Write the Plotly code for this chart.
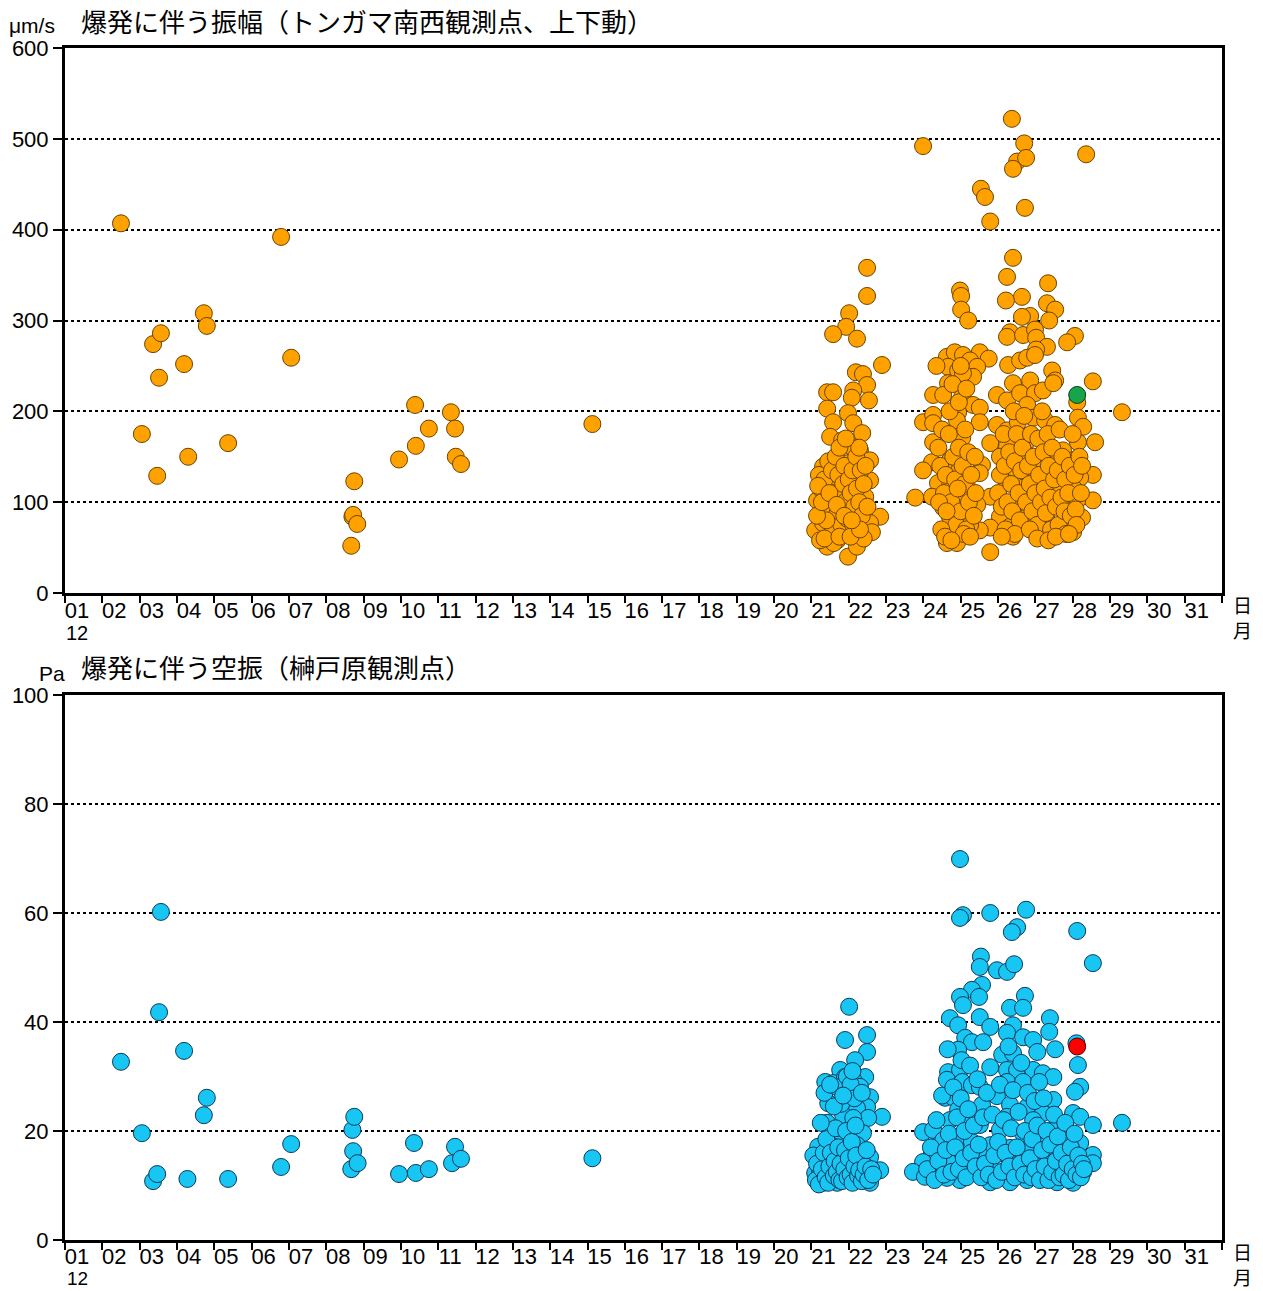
import plotly.graph_objects as go

# ---- Seismic amplitude of explosions (µm/s), December ----
amp_day = [
    2.50, 3.06, 3.36, 3.47, 3.52, 3.57, 4.19, 4.30, 4.72, 4.80, 5.37, 6.79, 7.06,
    8.67, 8.70, 8.72, 8.75, 8.83, 9.95, 10.38, 10.40, 10.75, 11.34, 11.45, 11.47, 11.61,
    15.13,
    # 21-22
    22.49, 22.49, 22.01, 21.93, 21.58, 22.22, 22.89, 22.19, 22.38, 22.49, 21.42, 21.58,
    22.12, 22.54, 22.08, 21.42, 21.98, 21.58, 22.12, 22.36, 21.50, 21.82, 22.08, 22.30,
    22.57, 22.57, 21.31, 21.58, 21.98, 22.25, 22.44, 21.15, 21.42, 21.77, 22.03, 22.84,
    22.57, 22.62, 21.10, 21.31, 21.58, 21.85, 22.17, 21.42, 21.98, 22.22, 21.23, 21.69,
    21.20, 21.25, 21.30, 21.35, 21.45, 21.50, 21.55, 21.60, 21.65, 21.70, 21.72, 21.75,
    21.80, 21.85, 21.88, 21.90, 21.95, 22.00, 22.05, 22.10, 22.12, 22.15, 22.20, 22.22,
    22.28, 22.32, 22.35, 22.40, 22.45, 22.50, 22.40, 21.60, 21.35, 21.40, 21.75, 22.05,
    22.30, 21.15, 21.18, 21.28, 21.48, 21.68, 21.88, 22.08, 22.28, 21.92,
    # 23-29
    26.37, 23.99, 28.36, 26.70, 26.51, 26.75, 26.40, 25.54, 25.65, 26.72, 25.79, 26.40,
    26.24, 27.34, 24.98, 25.01, 26.64, 26.21, 27.31, 27.53, 25.01, 25.20, 26.86, 26.64,
    27.37, 26.32, 26.24, 26.67, 26.99, 27.02, 28.06, 27.85, 27.31, 27.02, 24.63, 24.84,
    25.06, 25.51, 25.75, 25.25, 24.66, 24.93, 25.44, 25.33, 25.06, 26.27, 26.59, 26.78,
    26.99, 27.45, 27.53, 24.66, 26.40, 26.86, 28.54, 24.26, 24.53, 25.04, 25.97, 26.24,
    26.59, 26.99, 27.20, 27.48, 25.33, 25.51, 26.78, 28.12, 29.32, 23.99, 24.26, 24.26,
    24.93, 24.90, 25.51, 25.97, 26.24, 26.53, 26.94, 27.26, 27.53, 28.14, 28.28, 28.60,
    28.14, 24.26, 25.04, 25.79, 26.24, 26.72, 27.31, 27.74, 24.23, 24.71, 25.57, 26.05,
    26.78, 27.13, 27.48, 28.01, 23.99, 24.98, 25.51, 26.27, 26.94, 27.39, 28.54, 28.20,
    24.39, 24.71, 25.17, 26.24, 26.67, 27.66, 28.01, 23.78, 24.23, 25.04, 25.79, 28.54,
    24.53, 25.44, 26.51, 27.20, 27.58, 28.12, 26.05, 24.71, 25.17, 25.79, 25.51, 26.32,
    26.78, 27.31, 27.74, 28.25, 24.84, 24.63, 24.90, 26.40, 25.79, 27.48, 28.01, 27.13,
    25.25,
    24.40, 24.45, 24.50, 24.55, 24.60, 24.68, 24.75, 24.80, 24.85, 24.88, 24.95, 25.00,
    25.05, 25.10, 25.12, 25.15, 25.20, 25.22, 25.28, 25.35, 25.38, 25.40, 24.48, 24.58,
    24.70, 24.78, 24.95, 25.00, 25.15, 24.35, 24.42, 24.62, 24.92, 25.08, 25.25, 24.75,
    26.00, 26.05, 26.10, 26.15, 26.18, 26.25, 26.30, 26.35, 26.38, 26.42, 26.45, 26.50,
    26.55, 26.58, 26.62, 26.65, 26.70, 26.75, 26.80, 26.85, 26.88, 26.92, 26.95, 27.00,
    27.05, 27.08, 27.10, 27.15, 27.18, 27.22, 27.25, 27.28, 27.33, 27.36, 27.40, 27.42,
    27.45, 27.50, 27.55, 27.60, 27.62, 27.65, 27.70, 27.72, 27.78, 27.80, 27.82, 27.88,
    27.92, 27.95, 28.00, 28.05, 28.08, 28.10, 28.18, 28.22, 28.25, 26.20, 26.45, 26.85,
    27.05, 27.35, 27.55, 27.90, 26.10,
]
amp_val = [
    407, 175, 274, 129, 237, 286, 252, 150, 308, 294, 165, 392, 259,
    52, 84, 86, 123, 76, 147, 207, 162, 181, 199, 181, 150, 142,
    186,
    358, 327, 308, 293, 285, 280, 251, 243, 241, 229, 221, 221,
    223, 212, 215, 203, 198, 188, 187, 176, 172, 168, 161, 157,
    146, 124, 139, 121, 143, 128, 106, 102, 99, 110, 91, 84,
    77, 67, 69, 77, 69, 73, 66, 51, 40, 51, 58, 58,
    130, 115, 88, 125, 145, 95, 135, 110, 150, 88, 130, 160,
    75, 120, 140, 100, 82, 125, 110, 135, 75, 95, 150, 115,
    100, 135, 85, 120, 140, 95, 60, 55, 60, 80, 62, 62,
    70, 85, 118, 100, 110, 97, 85, 80, 160, 170,
    522, 492, 483, 495, 475, 479, 467, 445, 436, 424, 409, 369,
    348, 341, 333, 327, 326, 322, 319, 312, 312, 300, 305, 304,
    300, 287, 282, 284, 290, 281, 283, 276, 271, 268, 260, 265,
    262, 265, 258, 256, 249, 245, 249, 238, 242, 251, 256, 259,
    262, 245, 234, 231, 231, 234, 233, 218, 218, 216, 218, 212,
    220, 220, 223, 231, 207, 204, 207, 210, 199, 188, 196, 187,
    199, 190, 188, 185, 179, 188, 193, 190, 185, 193, 183, 166,
    166, 166, 171, 165, 161, 163, 161, 157, 144, 146, 141, 150,
    152, 143, 146, 146, 135, 137, 132, 130, 130, 128, 130, 127,
    121, 117, 117, 121, 116, 117, 116, 105, 106, 106, 106, 102,
    94, 97, 99, 97, 102, 102, 84, 84, 83, 72, 69, 73,
    84, 80, 77, 83, 66, 55, 55, 62, 45, 62, 67, 69,
    75,
    160, 140, 180, 110, 130, 175, 100, 150, 125, 75, 160, 90,
    140, 120, 180, 70, 155, 100, 130, 85, 150, 110, 70, 62,
    200, 230, 210, 250, 225, 250, 100, 90, 115, 65, 62, 58,
    110, 130, 95, 175, 140, 100, 155, 120, 90, 200, 145, 175,
    110, 80, 135, 160, 195, 100, 140, 120, 175, 90, 150, 110,
    75, 170, 130, 100, 200, 155, 115, 88, 175, 140, 105, 70,
    160, 125, 95, 135, 75, 180, 105, 150, 90, 125, 65, 110,
    140, 85, 175, 130, 92, 75, 150, 110, 140, 70, 65, 70,
    60, 58, 62, 65, 62,
]

# ---- Infrasound pressure of explosions (Pa), December ----
air_day = [
    2.50, 3.06, 3.36, 3.47, 3.52, 3.57, 4.19, 4.28, 4.72, 4.80, 5.37, 6.79, 7.06,
    8.67, 8.70, 8.72, 8.75, 8.84, 9.95, 10.35, 10.40, 10.75, 11.37, 11.45, 11.61,
    15.13,
    # 21-22
    22.01, 21.90, 22.49, 22.49, 22.17, 21.77, 22.44, 21.37, 21.58, 21.90, 22.12, 22.30,
    22.03, 22.57, 21.45, 22.49, 21.95, 22.22, 22.89, 22.52, 21.85, 21.42, 22.12, 22.38,
    21.50, 21.82, 21.18, 22.22, 21.58, 22.57, 22.30, 22.84, 21.10, 21.42, 21.85, 22.03,
    22.57, 21.31, 21.69, 22.22, 21.23, 21.55, 21.85,
    21.05, 21.12, 21.15, 21.20, 21.28, 21.33, 21.38, 21.40, 21.45, 21.48, 21.52, 21.60,
    21.62, 21.65, 21.68, 21.72, 21.75, 21.78, 21.80, 21.82, 21.88, 21.90, 21.93, 21.97,
    22.00, 22.05, 22.08, 22.10, 22.15, 22.18, 22.20, 22.25, 22.28, 22.35, 22.40, 22.45,
    22.48, 22.52, 22.60, 22.65, 21.25, 21.35, 21.70, 21.60, 21.50, 21.95, 22.05, 22.15,
    22.35, 22.10, 21.85,
    # 23-29
    24.98, 25.06, 24.98, 25.79, 26.75, 26.51, 26.37, 28.12, 28.54, 25.54, 25.51, 25.97,
    26.24, 26.43, 25.57, 25.30, 24.98, 25.49, 26.72, 25.06, 26.32, 26.67, 24.71, 25.51,
    27.39, 24.93, 25.79, 26.40, 26.24, 27.37, 26.67, 26.94, 25.12, 25.30, 25.60, 27.53,
    28.10, 24.93, 26.11, 26.40, 27.05, 28.14, 25.79, 24.66, 24.98, 26.24, 26.51, 26.94,
    27.20, 27.48, 24.63, 25.04, 25.30, 25.51, 26.24, 26.67, 28.20, 28.06, 25.97, 25.57,
    24.58, 24.79, 26.32, 26.78, 27.48, 24.93, 27.20, 28.01, 28.20, 26.24, 24.71, 25.17,
    26.94, 29.32, 28.54, 23.99, 24.26, 25.51, 26.67, 27.48, 24.98, 26.05, 27.85, 24.53,
    25.30, 25.79, 27.13, 28.20, 26.32, 26.78, 27.58, 24.23, 24.98, 25.51, 28.54, 26.05,
    27.31, 28.01, 23.99, 24.71, 25.25, 25.79, 26.51, 26.94, 28.54, 27.74, 23.72, 24.45,
    25.44, 26.24, 27.31, 28.28, 24.04, 24.98, 25.79, 26.32, 26.78, 27.58, 28.01, 24.63,
    24.10, 24.20, 24.30, 24.35, 24.40, 24.50, 24.55, 24.60, 24.65, 24.68, 24.75, 24.80,
    24.85, 24.90, 24.95, 25.00, 25.02, 25.08, 25.10, 25.15, 25.20, 25.25, 25.28, 25.35,
    25.40, 25.45, 25.48, 25.55, 25.60, 25.65, 25.70, 25.75, 25.85, 25.90, 25.95, 26.00,
    26.05, 26.10, 26.15, 26.20, 26.28, 26.30, 26.35, 26.40, 26.45, 26.50, 26.55, 26.60,
    26.62, 26.70, 26.72, 26.80, 26.85, 26.90, 26.92, 26.98, 27.00, 27.05, 27.10, 27.12,
    27.18, 27.22, 27.25, 27.30, 27.35, 27.40, 27.45, 27.50, 27.55, 27.60, 27.65, 27.70,
    27.75, 27.80, 27.85, 27.90, 27.95, 28.00, 28.05, 28.10, 28.15, 28.22, 28.25, 28.30,
]
air_val = [
    32.7, 19.6, 10.8, 12.1, 41.8, 60.2, 34.7, 11.2, 22.9, 26.1, 11.2, 13.4, 17.6,
    13.0, 20.2, 16.3, 22.6, 14.1, 12.1, 17.8, 12.3, 13.0, 14.1, 17.1, 14.9,
    15.0,
    42.8, 36.7, 37.6, 34.5, 33.0, 31.2, 29.9, 29.0, 28.8, 29.9, 29.4, 28.1,
    27.9, 26.2, 25.1, 24.4, 24.8, 24.2, 22.6, 22.4, 22.9, 21.5, 22.4, 19.6,
    19.6, 18.9, 17.1, 17.4, 17.1, 15.2, 14.1, 12.8, 12.3, 14.7, 15.2, 13.4,
    10.5, 10.5, 10.5, 11.0, 12.5, 12.3, 11.9,
    15.5, 11.0, 14.0, 10.2, 13.0, 16.0, 11.5, 18.5, 10.5, 13.5, 16.0, 11.8,
    14.5, 20.5, 12.5, 17.0, 11.0, 14.0, 25.0, 10.8, 13.0, 16.5, 20.0, 11.5,
    15.0, 12.0, 18.0, 10.5, 13.5, 21.0, 15.5, 11.8, 12.8, 10.8, 12.0, 13.5,
    16.5, 11.0, 13.0, 12.0, 21.5, 27.0, 28.0, 24.5, 28.5, 30.0, 28.5, 26.0,
    27.0, 31.0, 26.5,
    69.9, 59.6, 59.1, 60.0, 60.6, 57.4, 56.5, 56.7, 50.8, 52.0, 50.1, 49.5,
    49.2, 50.6, 46.8, 45.9, 44.6, 44.6, 44.8, 43.1, 42.6, 42.6, 40.7, 40.9,
    40.7, 39.4, 39.1, 39.4, 38.0, 38.2, 37.2, 36.7, 37.1, 36.3, 36.3, 35.0,
    36.1, 34.9, 34.0, 34.3, 34.5, 32.1, 31.7, 30.8, 31.2, 31.2, 31.2, 31.2,
    30.6, 29.9, 29.4, 29.0, 28.4, 28.1, 29.0, 29.0, 28.1, 27.2, 26.4, 24.8,
    26.1, 26.2, 24.8, 24.4, 25.7, 23.9, 23.3, 23.3, 22.6, 22.6, 22.0, 22.0,
    22.0, 21.5, 21.1, 19.8, 20.2, 21.1, 19.6, 20.2, 18.9, 20.2, 19.6, 18.3,
    18.0, 17.4, 18.0, 17.8, 16.9, 16.5, 16.1, 15.9, 15.6, 15.6, 15.6, 15.9,
    15.0, 15.0, 14.3, 14.1, 13.8, 13.4, 13.8, 14.1, 14.1, 13.4, 12.5, 12.5,
    12.5, 12.3, 12.3, 12.5, 11.6, 11.0, 10.6, 10.6, 11.0, 10.6, 10.5, 11.4,
    13.0, 17.0, 11.0, 22.0, 14.5, 26.5, 12.0, 16.5, 35.0, 19.5, 12.5, 28.0,
    17.0, 22.5, 13.0, 26.0, 33.0, 15.0, 20.0, 11.5, 24.0, 32.0, 16.0, 21.0,
    13.5, 29.5, 17.5, 11.5, 22.5, 14.0, 27.0, 12.0, 23.0, 15.5, 11.0, 18.0,
    28.5, 12.5, 22.0, 16.0, 35.5, 13.5, 20.5, 27.5, 11.5, 17.0, 23.5, 14.0,
    32.5, 12.0, 20.0, 27.0, 15.0, 11.5, 18.5, 25.5, 13.0, 21.0, 29.0, 11.0,
    16.5, 26.0, 13.5, 20.0, 11.0, 17.5, 12.5, 23.0, 14.5, 19.0, 11.5, 16.0,
    12.0, 21.5, 14.0, 11.0, 17.0, 13.0, 19.5, 12.0, 15.5, 11.5, 14.0, 13.0,
]

# Highlighted explosion (28th)
mark_day = [28.12]
mark_amp = [218]
mark_air = [35.5]

days = list(range(1, 33))
day_text = [f"{d:02d}" for d in range(1, 32)] + [""]

FONT_NUM = "Liberation Sans, Arial, sans-serif"
FONT_JP = "Noto Sans CJK JP, sans-serif"

fig = go.Figure()

def add_points(x, y, color, edge, ax):
    fig.add_trace(go.Scatter(
        x=x, y=y, mode="markers", xaxis=ax[0], yaxis=ax[1],
        marker=dict(size=17, color=color, line=dict(color=edge, width=1)),
        showlegend=False, hoverinfo="x+y",
    ))

add_points(amp_day, amp_val, "#FFA200", "#6B4300", ("x", "y"))
add_points(mark_day, mark_amp, "#16A54A", "#0B3B1A", ("x", "y"))
add_points(air_day, air_val, "#17C6F2", "#0B3A5E", ("x2", "y2"))
add_points(mark_day, mark_air, "#FF0000", "#4A0000", ("x2", "y2"))

xaxis_common = dict(
    range=[1, 32], tickmode="array", tickvals=days, ticktext=day_text,
    ticks="outside", ticklen=7, tickwidth=2, tickcolor="black",
    ticklabelshift=12,
    showline=True, linewidth=3, linecolor="black", mirror=True,
    showgrid=False, zeroline=False,
    tickfont=dict(family=FONT_NUM, size=22, color="black"),
)
yaxis_common = dict(
    ticks="outside", ticklen=9, tickwidth=2, tickcolor="black",
    showline=True, linewidth=3, linecolor="black", mirror=True,
    showgrid=True, gridcolor="black", griddash="dot", gridwidth=1.5,
    zeroline=False,
    tickfont=dict(family=FONT_NUM, size=22, color="black"),
)

top_lo = (1240 - 593) / 1192
bot_hi = (1240 - 695) / 1192

fig.update_layout(
    width=1263, height=1291,
    margin=dict(l=65, r=41, t=48, b=51),
    paper_bgcolor="white", plot_bgcolor="white",
    xaxis=dict(xaxis_common, anchor="y", domain=[0, 1], ticklabelstandoff=-11),
    yaxis=dict(yaxis_common, anchor="x", domain=[top_lo, 1], range=[0, 600],
               tickvals=[0, 100, 200, 300, 400, 500, 600]),
    xaxis2=dict(xaxis_common, anchor="y2", domain=[0, 1], ticklabelstandoff=-12),
    yaxis2=dict(yaxis_common, anchor="x2", domain=[0, bot_hi], range=[0, 100],
                tickvals=[0, 20, 40, 60, 80, 100]),
)

def px_x(px):
    return (px - 65) / 1157

def px_y(py):
    return (1240 - py) / 1192

def label(text, x, y, size, family, xanchor="left", yanchor="middle"):
    fig.add_annotation(
        text=text, x=x, y=y, xref="paper", yref="paper",
        xanchor=xanchor, yanchor=yanchor, showarrow=False, borderpad=0,
        font=dict(family=family, size=size, color="black"),
    )

# Units and panel titles
label("μm/s", px_x(8), px_y(25), 21, FONT_NUM)
label("爆発に伴う振幅（トンガマ南西観測点、上下動）", px_x(80), px_y(20), 26, FONT_JP)
label("Pa", px_x(66), px_y(673), 21, FONT_NUM, xanchor="right")
label("爆発に伴う空振（榊戸原観測点）", px_x(80), px_y(666), 26, FONT_JP)

# Month under the first day, and 日/月 at the end of each time axis
label("12", px_x(77), px_y(633), 20, FONT_NUM, xanchor="center")
label("12", px_x(77), px_y(1290), 19, FONT_NUM, xanchor="center", yanchor="bottom")
for base in (593, 1240):
    label("日<br>月", px_x(1242), px_y(base + 24), 19, FONT_JP, xanchor="center")

fig.write_html("out.html")
